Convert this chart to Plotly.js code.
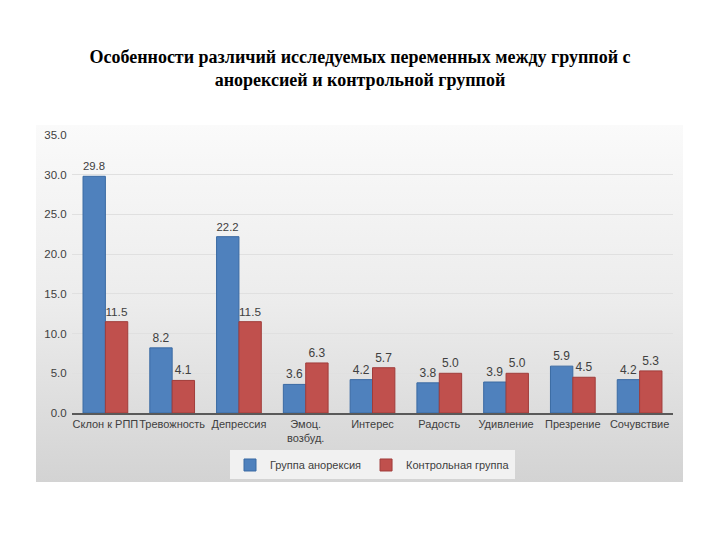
<!DOCTYPE html>
<html><head><meta charset="utf-8">
<script src="https://cdn.plot.ly/plotly-3.0.1.min.js"></script>
<style>
body{margin:0;background:#fff;}
#wrap{position:relative;width:720px;height:540px;}
#bg{position:absolute;left:36px;top:125px;width:647px;height:357px;background:linear-gradient(to bottom,#fafafa 0%,#ececec 50%,#d3d3d3 100%);}
#chart{position:absolute;left:0;top:0;width:720px;height:540px;}
</style></head>
<body><div id="wrap"><div id="bg"></div><div id="chart"></div></div>
<script>
const categories = ["Склон к РПП","Тревожность","Депрессия","Эмоц.<br>возбуд.","Интерес","Радость","Удивление","Презрение","Сочувствие"];
const anorexia = [29.8, 8.2, 22.2, 3.6, 4.2, 3.8, 3.9, 5.9, 4.2];
const control = [11.5, 4.1, 11.5, 6.3, 5.7, 5.0, 5.0, 4.5, 5.3];
const seriesNames = ["Группа анорексия","Контрольная группа"];

const textFont = {family:"Liberation Sans, Arial, sans-serif", size:12, color:"#404040"};
const traces = [
  {type:"bar", name:seriesNames[0], x:categories, y:anorexia,
   marker:{color:"#4F81BD", line:{color:"#3A6AA3", width:1}},
   texttemplate:"%{y:.1f}", textposition:"outside", textfont:textFont, cliponaxis:false},
  {type:"bar", name:seriesNames[1], x:categories, y:control,
   marker:{color:"#C0504D", line:{color:"#A03C3A", width:1}},
   texttemplate:"%{y:.1f}", textposition:"outside", textfont:textFont, cliponaxis:false}
];
const layout = {
  width:720, height:540,
  paper_bgcolor:"rgba(0,0,0,0)", plot_bgcolor:"rgba(0,0,0,0)",
  margin:{l:72, r:47, t:135, b:127},
  title:{text:"<b>Особенности различий исследуемых переменных между группой с<br>анорексией и контрольной группой</b>",
    font:{family:"Liberation Serif, Times New Roman, serif", size:18, color:"#000"},
    x:0.5, xanchor:"center", y:0.884, yanchor:"middle"},
  barmode:"group", bargap:0.33, bargroupgap:0,
  xaxis:{tickfont:{family:"Liberation Sans, Arial, sans-serif", size:11, color:"#404040"},
    showline:true, linecolor:"#595959", linewidth:1.5, ticks:"", showgrid:false, fixedrange:true, tickangle:0},
  yaxis:{range:[0,35], dtick:5, tickformat:".1f",
    tickfont:{family:"Liberation Sans, Arial, sans-serif", size:11.5, color:"#404040"},
    showgrid:true, gridcolor:"#e0e0e0", gridwidth:1, zeroline:false, showline:false, ticks:"outside", ticklen:2, tickcolor:"rgba(0,0,0,0)"},
  showlegend:true,
  legend:{orientation:"h", x:0.5, xanchor:"center", y:-0.187, yanchor:"middle",
    bgcolor:"rgba(242,242,242,0.95)", itemwidth:30, tracegroupgap:0,
    font:{family:"Liberation Sans, Arial, sans-serif", size:11, color:"#404040"}}
};
Plotly.newPlot("chart", traces, layout, {displayModeBar:false, staticPlot:true});
</script></body></html>
